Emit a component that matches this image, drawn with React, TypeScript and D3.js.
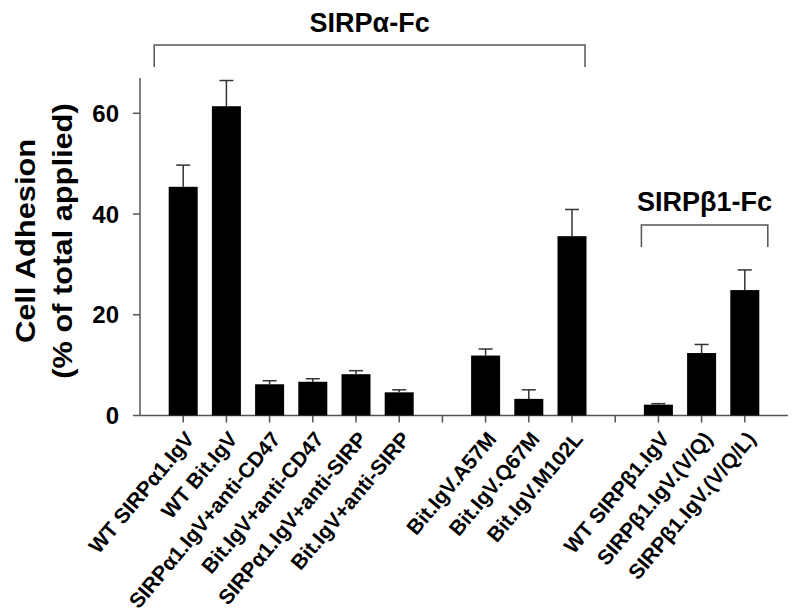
import React, { useEffect, useRef } from "react";
import * as d3 from "d3";

// slots along the x axis (gap slots keep their tick but have no bar)
const slots = [
  "WT SIRPα1.IgV",
  "WT Bit.IgV",
  "SIRPα1.IgV+anti-CD47",
  "Bit.IgV+anti-CD47",
  "SIRPα1.IgV+anti-SIRP",
  "Bit.IgV+anti-SIRP",
  "gap1",
  "Bit.IgV.A57M",
  "Bit.IgV.Q67M",
  "Bit.IgV.M102L",
  "gap2",
  "WT SIRPβ1.IgV",
  "SIRPβ1.IgV.(V/Q)",
  "SIRPβ1.IgV.(V/Q/L)",
];
const adhesion = [45.4, 61.4, 6.2, 6.7, 8.2, 4.6, null, 11.9, 3.3, 35.6, null, 2.15, 12.4, 24.9];
const errors = [4.3, 5.1, 0.7, 0.6, 0.7, 0.5, null, 1.3, 1.8, 5.3, null, 0.2, 1.7, 4.0];
const yTicks = [0, 20, 40, 60];

const FONT = "'Liberation Sans', Arial, sans-serif";

const App = () => {
  const svgRef = useRef<SVGSVGElement | null>(null);

  useEffect(() => {
    const width = 800;
    const height = 614;
    const svg = d3.select(svgRef.current);
    svg.selectAll("*").remove();
    svg.attr("width", width).attr("height", height);

    const left = 140;
    const right = 788;
    const top = 78;
    const bottom = 415.5;

    const x = d3.scalePoint<string>().domain(slots).range([left, right]).padding(1);
    const y = d3.scaleLinear().domain([0, 67]).range([bottom, top]);
    const barW = 29;
    const axisColor = "#555";

    // y axis
    svg
      .append("line")
      .attr("x1", left)
      .attr("x2", left)
      .attr("y1", top)
      .attr("y2", bottom)
      .attr("stroke", axisColor)
      .attr("stroke-width", 1.5);
    yTicks.forEach((t) => {
      svg
        .append("line")
        .attr("x1", left - 7)
        .attr("x2", left)
        .attr("y1", y(t))
        .attr("y2", y(t))
        .attr("stroke", axisColor)
        .attr("stroke-width", 1.5);
      svg
        .append("text")
        .attr("x", 119)
        .attr("y", y(t))
        .attr("dy", "0.36em")
        .attr("text-anchor", "end")
        .style("font-family", FONT)
        .style("font-weight", "bold")
        .style("font-size", "24px")
        .text(t);
    });

    // x axis
    svg
      .append("line")
      .attr("x1", left)
      .attr("x2", right)
      .attr("y1", bottom)
      .attr("y2", bottom)
      .attr("stroke", axisColor)
      .attr("stroke-width", 1.5);

    slots.forEach((s, i) => {
      const cx = x(s) as number;
      svg
        .append("line")
        .attr("x1", cx)
        .attr("x2", cx)
        .attr("y1", bottom)
        .attr("y2", bottom + 7)
        .attr("stroke", axisColor)
        .attr("stroke-width", 1.5);

      const v = adhesion[i];
      const e = errors[i];
      if (v == null) return;

      // error bar (upper only)
      if (e != null) {
        svg
          .append("line")
          .attr("x1", cx)
          .attr("x2", cx)
          .attr("y1", y(v))
          .attr("y2", y(v + e))
          .attr("stroke", "#333")
          .attr("stroke-width", 1.5);
        svg
          .append("line")
          .attr("x1", cx - 7)
          .attr("x2", cx + 7)
          .attr("y1", y(v + e))
          .attr("y2", y(v + e))
          .attr("stroke", "#333")
          .attr("stroke-width", 1.5);
      }

      svg
        .append("rect")
        .attr("x", cx - barW / 2)
        .attr("y", y(v))
        .attr("width", barW)
        .attr("height", bottom - y(v))
        .attr("fill", "#000");

      svg
        .append("text")
        .attr("transform", `translate(${cx + 12}, ${bottom + 24}) rotate(-50)`)
        .attr("text-anchor", "end")
        .style("font-family", FONT)
        .style("font-weight", "bold")
        .style("font-size", "21px")
        .text(s);
    });

    // y axis title
    const yTitle = svg
      .append("text")
      .attr("transform", `translate(35, 241) rotate(-90) scale(1.1, 1)`)
      .attr("text-anchor", "middle")
      .style("font-family", FONT)
      .style("font-weight", "bold")
      .style("font-size", "28px");
    yTitle.append("tspan").attr("x", 0).attr("y", 0).text("Cell Adhesion");
    yTitle.append("tspan").attr("x", 0).attr("y", 37).text("(% of total applied)");

    // group brackets
    const bracket = (x1: number, x2: number, yTop: number, yBot: number, label: string, ly: number) => {
      svg
        .append("path")
        .attr("d", `M${x1},${yBot} L${x1},${yTop} L${x2},${yTop} L${x2},${yBot}`)
        .attr("fill", "none")
        .attr("stroke", axisColor)
        .attr("stroke-width", 1.5);
      svg
        .append("text")
        .attr("x", (x1 + x2) / 2)
        .attr("y", ly)
        .attr("text-anchor", "middle")
        .style("font-family", FONT)
        .style("font-weight", "bold")
        .style("font-size", "27px")
        .text(label);
    };
    bracket((x(slots[0]) as number) - 29, (x(slots[9]) as number) + 13, 45, 67, "SIRPα-Fc", 32);
    bracket((x(slots[11]) as number) - 17, (x(slots[13]) as number) + 23, 225, 247, "SIRPβ1-Fc", 211);
  }, []);

  return (
    <svg
      ref={svgRef}
      style={{ position: "absolute", left: 0, top: 0, background: "#fff" }}
    ></svg>
  );
};

export default App;
